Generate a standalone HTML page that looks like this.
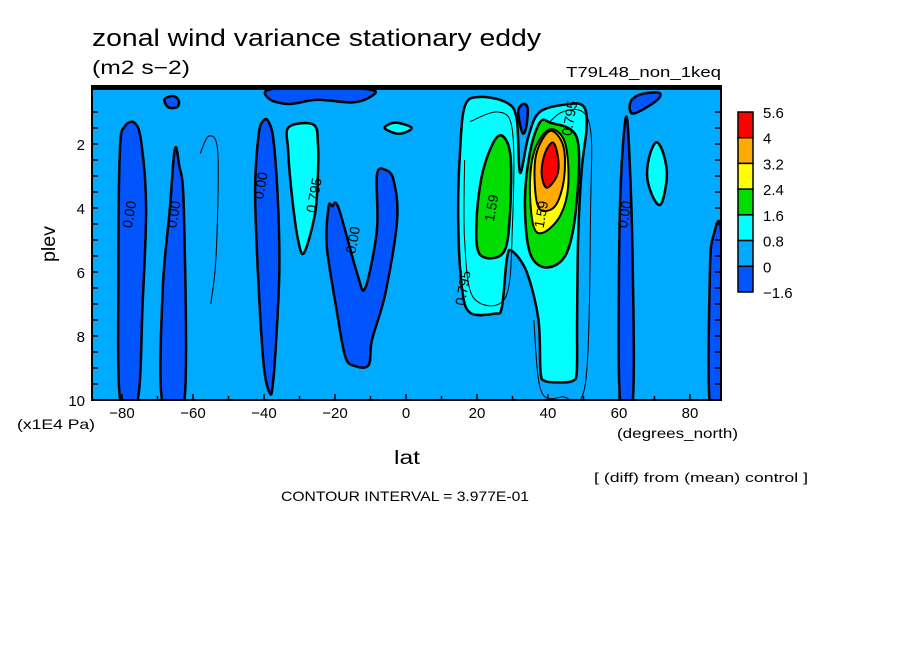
<!DOCTYPE html>
<html><head><meta charset="utf-8"><style>
body{margin:0;background:#fff;}
svg text{font-family:"Liberation Sans",sans-serif;fill:#000;}
</style></head><body>
<svg id="chart" width="904" height="654" viewBox="0 0 904 654" xmlns="http://www.w3.org/2000/svg">
<rect x="0" y="0" width="904" height="654" fill="#fff"/>
<clipPath id="pc"><rect x="92" y="86" width="629" height="314"/></clipPath>
<g id="plot" clip-path="url(#pc)"></g>
<g id="axes"></g>
<text x="92" y="46" font-size="24" textLength="449" lengthAdjust="spacingAndGlyphs">zonal wind variance stationary eddy</text>
<text x="92" y="74" font-size="19" textLength="98" lengthAdjust="spacingAndGlyphs">(m2 s−2)</text>
<text x="566" y="77" font-size="15" textLength="155" lengthAdjust="spacingAndGlyphs">T79L48_non_1keq</text>
<text transform="translate(55,262) rotate(-90)" font-size="19" textLength="36" lengthAdjust="spacingAndGlyphs">plev</text>
<text x="17" y="429" font-size="14" textLength="78" lengthAdjust="spacingAndGlyphs">(x1E4 Pa)</text>
<text x="617" y="438" font-size="14" textLength="121" lengthAdjust="spacingAndGlyphs">(degrees_north)</text>
<text x="394" y="464" font-size="19" textLength="26" lengthAdjust="spacingAndGlyphs">lat</text>
<text x="594" y="482" font-size="13" textLength="214" lengthAdjust="spacingAndGlyphs">[ (diff) from (mean) control ]</text>
<text x="281" y="501" font-size="14" textLength="248" lengthAdjust="spacingAndGlyphs">CONTOUR INTERVAL = 3.977E-01</text>
<g id="cbar"></g>
</svg>
<script>
const latTicks=[-80,-60,-40,-20,0,20,40,60,80];
const plevTicks=[2,4,6,8,10];
const levelLabels=["5.6","4","3.2","2.4","1.6","0.8","0","-1.6"];
const levelColors=["#ff0000","#ffaa00","#ffff00","#00dd00","#00ffff","#00aaff","#0055ff"];
const darkBlue1=[[-80.5,10],[-81,6],[-80.6,2.2],[-79.2,1.45],[-76.3,1.35],[-74.5,2],[-73.2,4],[-74.2,7],[-75.6,10]];
const darkBlue2=[[-68.7,10],[-68.5,6.5],[-66.5,4],[-65.5,2.5],[-64.8,2.1],[-64,2.6],[-62.6,4],[-62.4,10]];
const darkBlue3=[[-38.3,9.8],[-40,9],[-41.5,6.5],[-42.5,3.5],[-41.5,1.7],[-40,1.25],[-38.5,1.35],[-37.2,2],[-36,4],[-35.7,6],[-36.5,8],[-37.5,9.5]];
const darkBlue4=[[-21.8,3.96],[-22.3,5.21],[-19.4,7.28],[-17.1,8.65],[-14.3,8.94],[-10.5,8.91],[-9.6,8.13],[-5.8,6.66],[-2.5,4.38],[-3.5,3.13],[-5.8,2.81],[-8.2,2.97],[-8.2,4.69],[-11.5,6.5],[-13.8,6.03],[-19.0,4.0],[-20.8,3.94]];
const darkBlueTop=[[-38.6,0.3],[-25,0.22],[-10,0.3],[-9.6,0.5],[-15,0.7],[-25,0.62],[-33,0.75],[-38.4,0.6]];
const darkBlueSmall1=[[-68,0.6],[-65.5,0.5],[-64,0.65],[-64.5,0.85],[-67,0.85]];
const darkBlueSmall2=[[31.6,1.0],[33,0.75],[34.3,0.9],[33.8,1.5],[32.8,1.65]];
const darkBlue60=[[60.3,10],[60,6],[60.6,3],[62,1.15],[63,2.5],[63.9,6],[63.9,10]];
const darkBlue65Top=[[63.2,0.7],[66,0.45],[71.3,0.4],[70.5,0.65],[64,1.05]];
const darkBlue88=[[85.5,10],[85.6,6],[86.5,4.9],[88.8,4.8],[88.8,10]];
const cyanSmall=[[-6,1.5],[-3,1.33],[1.6,1.5],[-2,1.68]];
const cyanA=[[-33,1.47],[-26,1.4],[-24.8,2.03],[-24.8,2.9],[-25.6,4.16],[-28.7,5.4],[-30.4,5.0],[-32,3.75],[-33.2,2.19]];
const cyan70=[[68.5,2.4],[70.5,1.95],[72.5,2.3],[73.5,3.0],[72,3.85],[70,3.75],[68,3.1]];
const cyanBig=[[16.6,0.81],[20.8,0.53],[28.4,0.71],[31.2,1.23],[32.1,2.9],[34.5,1.75],[37.7,1.0],[45.3,0.76],[49.9,0.81],[50.9,1.44],[49.5,2.8],[48.5,4.88],[48.2,7.5],[48.1,9.1],[47,9.4],[43.4,9.45],[39,9.4],[37.9,9.1],[37.3,7.48],[34.0,6.0],[29.8,5.34],[28.4,5.6],[27.0,7.1],[25,7.3],[18.0,7.27],[15.7,6.44],[14.7,4.35],[15.2,2.27]];
const greenL=[[26,1.75],[29.3,2.27],[29.3,4.15],[27.4,5.4],[20.8,5.45],[19.9,4.35],[21.8,2.79]];
const greenR=[[40.6,1.33],[48.1,1.8],[48.1,3.78],[45.3,5.4],[39.6,5.86],[34.9,5.4],[33.5,3.83],[34.9,2.27],[37.7,1.33]];
const yellowR=[[40.6,1.54],[44.8,1.96],[45.7,3.31],[43.4,4.25],[38.7,4.77],[35.9,4.56],[34.9,3.31],[36.3,2.17]];
const orangeR=[[40.6,1.59],[44.3,2.06],[44.5,3.1],[42,3.94],[37.7,4.04],[36.3,3.31],[36.8,2.27]];
const redR=[[41.5,1.96],[42.9,2.48],[42.5,3.0],[39.6,3.37],[38.2,2.9],[39.2,2.27]];
const thinA=[[-29,1.8],[-31.5,3.5],[-29.5,5.2],[-27.5,4.5],[-26.5,2.5],[-27.5,1.7]];
const thinB=[[-58,2.3],[-55.5,1.75],[-53,2.3],[-53.5,5.5],[-55,7]];
const thinC=[[18,1.3],[26,1.0],[30,1.6],[30,4.5],[28,6.8],[19,6.8],[16.5,5],[16.5,2.5]];
const thinD=[[36,1.9],[44,1.0],[51.5,1.3],[52,4],[50.5,9.5],[44,9.9],[38,9.7],[36,7.5]];

const SVGNS="http://www.w3.org/2000/svg";
function xs(lat){return 406+3.55*lat;}
function ys(p){return 400-(10-p)*32;}
function smoothPath(pts,closed){
  const P=pts.map(d=>[xs(d[0]),ys(d[1])]);const n=P.length;
  let s="M"+P[0][0].toFixed(1)+","+P[0][1].toFixed(1);
  const last=closed?n:n-1;
  for(let i=0;i<last;i++){
    const p0=P[(i-1+n)%n],p1=P[i],p2=P[(i+1)%n],p3=P[(i+2)%n];
    const a=closed||i>0?p0:p1, b=closed||i+2<n?p3:p2;
    const c1=[p1[0]+(p2[0]-a[0])/6,p1[1]+(p2[1]-a[1])/6];
    const c2=[p2[0]-(b[0]-p1[0])/6,p2[1]-(b[1]-p1[1])/6];
    s+="C"+c1[0].toFixed(1)+","+c1[1].toFixed(1)+" "+c2[0].toFixed(1)+","+c2[1].toFixed(1)+" "+p2[0].toFixed(1)+","+p2[1].toFixed(1);
  }
  return s+(closed?"Z":"");
}
const plot=document.getElementById('plot');
const bg=document.createElementNS(SVGNS,'rect');
bg.setAttribute('x',92);bg.setAttribute('y',86);bg.setAttribute('width',629);bg.setAttribute('height',314);bg.setAttribute('fill','#00aaff');


plot.appendChild(bg);
function region(pts,fill,name,sw){
  const el=document.createElementNS(SVGNS,'path');
  el.setAttribute('d',smoothPath(pts,true));
  el.setAttribute('fill',fill);el.setAttribute('stroke','#000');el.setAttribute('stroke-width',sw);
  
  
  plot.appendChild(el);
}
function thin(pts,name){
  const el=document.createElementNS(SVGNS,'path');
  el.setAttribute('d',smoothPath(pts,false));
  el.setAttribute('fill','none');el.setAttribute('stroke','#000');el.setAttribute('stroke-width',1);
  
  
  plot.appendChild(el);
}
[thinA,thinB].forEach((t,i)=>thin(t,'thin-contour-'+i));
region(darkBlue1,levelColors[6],'negative-region-80s',2.5);
region(darkBlue2,levelColors[6],'negative-region-65s',2.5);
region(darkBlue3,levelColors[6],'negative-region-40s',2.5);
region(darkBlue4,levelColors[6],'negative-region-15s',2.5);
region(darkBlueTop,levelColors[6],'negative-region-top',2.5);
region(darkBlueSmall1,levelColors[6],'negative-region-small-a',2.5);
region(darkBlue60,levelColors[6],'negative-region-60n',2.5);
region(darkBlue65Top,levelColors[6],'negative-region-65n-top',2.5);
region(darkBlue88,levelColors[6],'negative-region-88n',2.5);
region(cyanSmall,levelColors[4],'cyan-region-small',2.5);
region(cyanA,levelColors[4],'cyan-region-30s',2.5);
region(cyan70,levelColors[4],'cyan-region-70n',2.5);
region(cyanBig,levelColors[4],'cyan-region-jet',2.5);
region(darkBlueSmall2,levelColors[6],'negative-region-small-b',2.5);
thin(thinC,'thin-contour-c');thin(thinD,'thin-contour-d');
region(greenL,levelColors[3],'green-region-25n',2.5);
region(greenR,levelColors[3],'green-region-40n',2.5);
region(yellowR,levelColors[2],'yellow-region-40n',2);
region(orangeR,levelColors[1],'orange-region-40n',2);
region(redR,levelColors[0],'red-region-40n',2);
const labels=[["0.00",-78,4.2],["0.00",-65.5,4.2],["0.00",-41,3.3],["0.795",-26,3.6],["0.00",-15,5],["1.59",24,4],["0.795",16,6.5],["1.59",38,4.2],["0.795",46,1.2],["0.00",61.5,4.2]];
labels.forEach((l,i)=>{
  const t=document.createElementNS(SVGNS,'text');
  t.setAttribute('transform','translate('+xs(l[1])+','+ys(l[2])+') rotate(-80)');
  t.setAttribute('font-size','14');t.setAttribute('text-anchor','middle');t.setAttribute('dy','5');
  t.textContent=l[0];
  
  
  plot.appendChild(t);
});
const tb=document.createElementNS(SVGNS,'rect');
tb.setAttribute('x',92);tb.setAttribute('y',86);tb.setAttribute('width',629);tb.setAttribute('height',4);tb.setAttribute('fill','#000');


plot.appendChild(tb);
const axes=document.getElementById('axes');
const frame=document.createElementNS(SVGNS,'rect');
frame.setAttribute('x',92);frame.setAttribute('y',86);frame.setAttribute('width',629);frame.setAttribute('height',314);
frame.setAttribute('fill','none');frame.setAttribute('stroke','#000');frame.setAttribute('stroke-width',2);


axes.appendChild(frame);
for(let lat=-80;lat<=80;lat+=10){
  const ln=document.createElementNS(SVGNS,'line');
  ln.setAttribute('x1',xs(lat));ln.setAttribute('x2',xs(lat));ln.setAttribute('y1',400);ln.setAttribute('y2',lat%20===0?394:396);
  ln.setAttribute('stroke','#000');ln.setAttribute('stroke-width',1.5);
  
  
  axes.appendChild(ln);
}
for(let p=1;p<=10;p+=0.5){
  [[92,98],[721,715]].forEach(e=>{
    const ln=document.createElementNS(SVGNS,'line');
    ln.setAttribute('x1',e[0]);ln.setAttribute('x2',e[1]);ln.setAttribute('y1',ys(p));ln.setAttribute('y2',ys(p));
    ln.setAttribute('stroke','#000');ln.setAttribute('stroke-width',1.5);
    
    
    axes.appendChild(ln);
  });
}
latTicks.forEach(v=>{
  const t=document.createElementNS(SVGNS,'text');
  t.setAttribute('x',xs(v));t.setAttribute('y',418);t.setAttribute('font-size','15');t.setAttribute('text-anchor','middle');
  t.textContent=v<0?'−'+(-v):String(v);
  
  
  axes.appendChild(t);
});
plevTicks.forEach(v=>{
  const t=document.createElementNS(SVGNS,'text');
  t.setAttribute('x',85);t.setAttribute('y',ys(v)+6);t.setAttribute('font-size','15');t.setAttribute('text-anchor','end');
  t.textContent=String(v);
  
  
  axes.appendChild(t);
});
const cb=document.getElementById('cbar');
const cbTop=112,cbH=180,n=levelColors.length;
levelColors.forEach((c,i)=>{
  const r=document.createElementNS(SVGNS,'rect');
  r.setAttribute('x',738);r.setAttribute('y',cbTop+i*cbH/n);r.setAttribute('width',15);r.setAttribute('height',cbH/n);
  r.setAttribute('fill',c);r.setAttribute('stroke','#000');r.setAttribute('stroke-width',1.5);
  
  
  cb.appendChild(r);
});
levelLabels.forEach((l,i)=>{
  const t=document.createElementNS(SVGNS,'text');
  t.setAttribute('x',763);t.setAttribute('y',cbTop+i*cbH/n+6);t.setAttribute('font-size','15');
  t.textContent=l.replace('-','−');
  
  
  cb.appendChild(t);
});
</script>
</body></html>
